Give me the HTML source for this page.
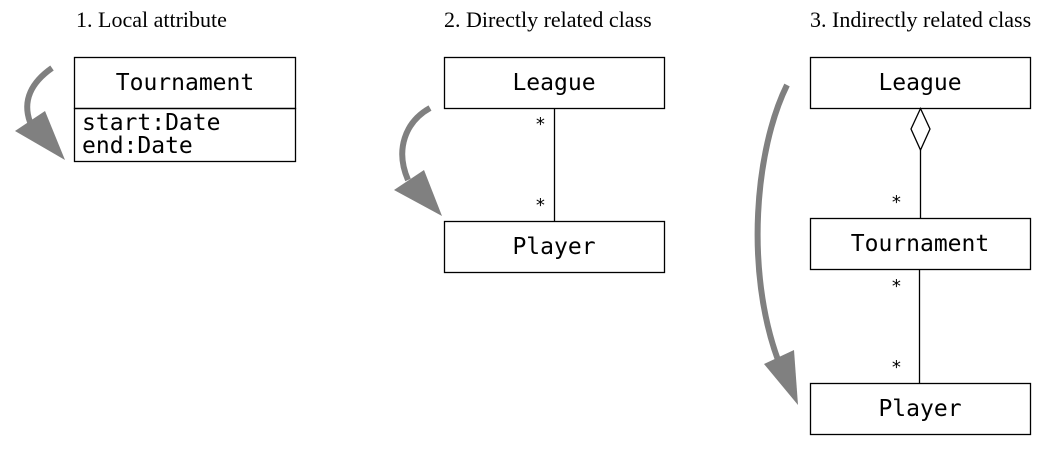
<!DOCTYPE html>
<html><head><style>body{margin:0;background:#fff}</style></head><body>
<svg width="1053" height="455" xmlns="http://www.w3.org/2000/svg">
<g font-family="Liberation Serif, serif" font-size="22" fill="#000">
<text x="76" y="27">1. Local attribute</text>
<text x="444" y="27">2. Directly related class</text>
<text x="810" y="27">3. Indirectly related class</text>
</g>
<g fill="none" stroke="#000" stroke-width="1.3">
<rect x="74.5" y="57.5" width="221" height="51"/>
<rect x="74.5" y="108.5" width="221" height="53"/>
<rect x="444.5" y="57.5" width="220" height="51"/>
<rect x="444.5" y="221.5" width="220" height="51"/>
<line x1="554.5" y1="108" x2="554.5" y2="221"/>
<rect x="810.5" y="57.5" width="220" height="51"/>
<rect x="810.5" y="218.5" width="220" height="51"/>
<rect x="810.5" y="383.5" width="220" height="51"/>
<polygon points="920.5,108.5 930,129 920.5,150 911,129" fill="#fff"/>
<line x1="920.5" y1="150" x2="920.5" y2="218"/>
<line x1="919.5" y1="269" x2="919.5" y2="383"/>
</g>
<g font-family="DejaVu Sans Mono, monospace" font-size="23" fill="#000">
<text x="185" y="90" text-anchor="middle">Tournament</text>
<text x="82" y="130">start:Date</text>
<text x="82" y="153">end:Date</text>
<text x="554" y="90" text-anchor="middle">League</text>
<text x="554" y="254" text-anchor="middle">Player</text>
<text x="920" y="90" text-anchor="middle">League</text>
<text x="920" y="251" text-anchor="middle">Tournament</text>
<text x="920" y="416" text-anchor="middle">Player</text>
</g>
<g font-family="DejaVu Sans Mono, monospace" font-size="18" fill="#000">
<text x="535" y="130">*</text>
<text x="535" y="211">*</text>
<text x="891" y="208">*</text>
<text x="891" y="292">*</text>
<text x="891" y="373">*</text>
</g>
<g stroke="#808080" stroke-width="6" fill="none">
<path d="M52,68 C32,82 22,100 30,122"/>
<path d="M430,108 C405,122 395,150 408,180"/>
<path d="M787,85 C755,150 745,270 778,360"/>
</g>
<g fill="#808080">
<polygon points="15,131 45,111 65,160"/>
<polygon points="394,190 424,170 442,216"/>
<polygon points="764,364 794,350 798,405"/>
</g>
</svg>
</body></html>
